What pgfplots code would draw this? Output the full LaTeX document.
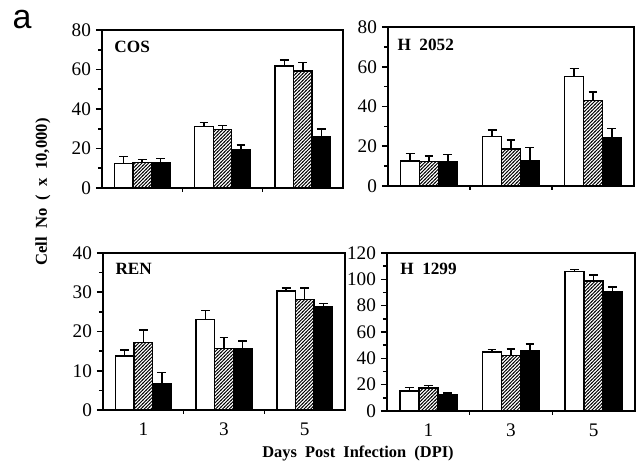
\documentclass[border=0pt]{standalone}
\usepackage{fontspec}
\setmainfont{Liberation Serif}
\newfontfamily\sansf{Liberation Sans}
\usepackage{pgfplots}
\pgfplotsset{compat=1.18}
\usetikzlibrary{patterns}

\pgfdeclarepatternformonly{denseNE}{\pgfqpoint{-0.5pt}{-0.5pt}}{\pgfqpoint{2.3pt}{2.3pt}}{\pgfqpoint{1.7pt}{1.7pt}}{
  \pgfsetlinewidth{0.45pt}
  \pgfpathmoveto{\pgfqpoint{-0.2pt}{-0.2pt}}
  \pgfpathlineto{\pgfqpoint{1.9pt}{1.9pt}}
  \pgfusepath{stroke}
}

\tikzset{plab/.style={anchor=north west, inner sep=0pt, font=\bfseries\fontsize{8.6}{9}\selectfont}}

\pgfplotsset{
  panel/.style={
    scale only axis, anchor=south west,
    xmin=0, xmax=6, ymin=0,
    ybar, bar width=0.46,
    xtick={1,3,5}, minor xtick={2,4},
    minor y tick num=1,
    xtick pos=left, ytick pos=left,
    major x tick style={draw=none},
    axis line style={line width=0.9pt},
    tick style={line width=0.8pt, black},
    tick align=outside,
    major tick length=3pt, minor tick length=2pt,
    tick label style={font=\fontsize{9.6}{10}\selectfont},
    yticklabel style={xshift=1pt},
    /pgf/number format/assume math mode=true,
    every axis plot/.append style={
      draw=black, line width=0.7pt,
      error bars/y dir=plus, error bars/y explicit,
      error bars/error bar style={line width=0.7pt, black},
      error bars/error mark options={rotate=90, mark size=2.2pt, line width=0.7pt, black},
    },
  },
  wbar/.style={fill=white, bar shift=-0.46},
  hbar/.style={pattern=denseNE, bar shift=0},
  bbar/.style={fill=black, bar shift=0.46},
}

\begin{document}
\begin{tikzpicture}
\path (0,0) rectangle (319.5pt,232pt);

% COS
\begin{axis}[panel, at={(51pt,138pt)}, width=120.5pt, height=79pt,
  ymax=80, ytick={0,20,40,60,80}, xticklabels={}]
\addplot[wbar] coordinates {(1,12.3) +- (0,3.7) (3,31.1) +- (0,2.1) (5,61.8) +- (0,3.0)};
\addplot[hbar] coordinates {(1,13.0) +- (0,1.3) (3,29.5) +- (0,2.0) (5,59.3) +- (0,4.2)};
\addplot[bbar] coordinates {(1,13.0) +- (0,2.0) (3,19.4) +- (0,2.3) (5,25.8) +- (0,4.0)};
\node[plab] at (rel axis cs:0.05,0.93) {COS};
\end{axis}

% H 2052
\begin{axis}[panel, at={(194pt,139pt)}, width=123pt, height=79.5pt,
  ymax=80, ytick={0,20,40,60,80}, xticklabels={}]
\addplot[wbar] coordinates {(1,12.6) +- (0,3.7) (3,24.9) +- (0,3.2) (5,55.1) +- (0,4.0)};
\addplot[hbar] coordinates {(1,12.3) +- (0,2.7) (3,18.7) +- (0,4.4) (5,43.1) +- (0,4.2)};
\addplot[bbar] coordinates {(1,12.1) +- (0,3.6) (3,12.8) +- (0,6.6) (5,24.4) +- (0,4.6)};
\node[plab] at (rel axis cs:0.037,0.925) {H\ \ 2052};
\end{axis}

% REN
\begin{axis}[panel, at={(51.5pt,27pt)}, width=121pt, height=78.5pt,
  ymax=40, ytick={0,10,20,30,40}]
\addplot[wbar] coordinates {(1,13.8) +- (0,1.5) (3,23.0) +- (0,2.4) (5,30.3) +- (0,0.8)};
\addplot[hbar] coordinates {(1,17.2) +- (0,3.2) (3,15.7) +- (0,2.8) (5,28.1) +- (0,3.0)};
\addplot[bbar] coordinates {(1,6.6) +- (0,2.9) (3,15.5) +- (0,2.1) (5,26.4) +- (0,0.8)};
\node[plab] at (rel axis cs:0.05,0.94) {REN};
\end{axis}

% H 1299
\begin{axis}[panel, at={(193.5pt,26.5pt)}, width=124pt, height=79pt,
  ymax=120, ytick={0,20,40,60,80,100,120}]
\addplot[wbar] coordinates {(1,15.1) +- (0,2.8) (3,44.9) +- (0,2.0) (5,105.9) +- (0,1.5)};
\addplot[hbar] coordinates {(1,17.4) +- (0,1.8) (3,42.1) +- (0,5.1) (5,98.7) +- (0,4.6)};
\addplot[bbar] coordinates {(1,12.3) +- (0,1.5) (3,45.9) +- (0,4.9) (5,90.5) +- (0,3.6)};
\node[plab] at (rel axis cs:0.052,0.94) {H\ \ 1299};
\end{axis}

\node[rotate=90, font=\bfseries\fontsize{8.3}{9}\selectfont] at (21.5pt,136pt) {Cell\ \ No\ \ (\ \ x\ \ 10,000)};
\node[font=\bfseries\fontsize{8.2}{9}\selectfont] at (179pt,5pt) {Days\ \ Post\ \ Infection\ \ (DPI)};
\node[font=\sansf\fontsize{17}{19}\selectfont] at (11pt,222pt) {a};
\end{tikzpicture}
\end{document}
